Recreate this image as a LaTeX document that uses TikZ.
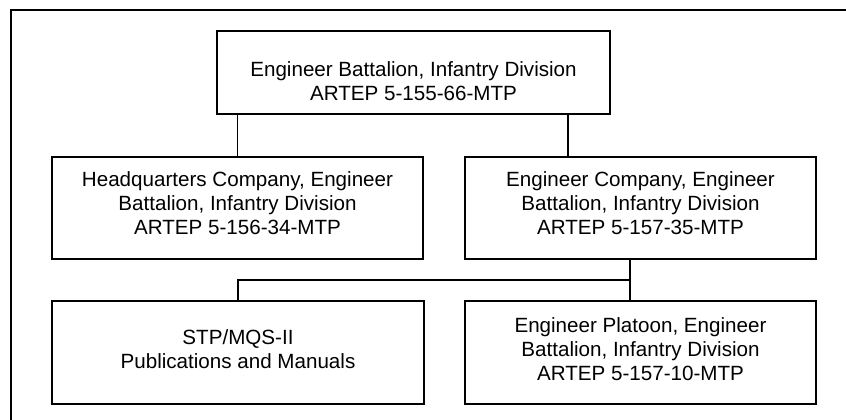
\documentclass[tikz,border=0pt]{standalone}
\usepackage{fontspec}
\setmainfont{Liberation Sans}
\usepackage{tikz}
\usetikzlibrary{positioning}

\tikzset{
  unitbox/.style={draw,line width=1.2pt,inner sep=0pt},
  unittext/.style={align=center,inner sep=0pt,
    font=\fontsize{20.6}{24}\selectfont},
  link/.style={line width=1.2pt}
}

\begin{document}
\begin{tikzpicture}[x=1pt,y=1pt,line cap=rect]
\useasboundingbox (0,0) rectangle (846,420);
\begin{scope}
\clip (0,0) rectangle (846,420);
\draw[line width=1.2pt] (11,-20) rectangle (870,410);
\end{scope}
% boxes
\node[unitbox,minimum width=393,minimum height=83] (bn) at (413.5,347.5) {};
\node[unitbox,minimum width=371,minimum height=102] (hq) at (237.5,212) {};
\node[unitbox,minimum width=351,minimum height=102] (ec) at (640.5,212) {};
\node[unitbox,minimum width=372,minimum height=103] (stp) at (238,67.5) {};
\node[unitbox,minimum width=351,minimum height=103] (ep) at (640.5,67.5) {};
% texts
\node[unittext] (bntext) at ([yshift=-9]bn.center)
  {Engineer Battalion, Infantry Division\\ARTEP 5-155-66-MTP};
\node[unittext] (hqtext) at ([yshift=4.5]hq.center)
  {Headquarters Company, Engineer\\Battalion, Infantry Division\\ARTEP 5-156-34-MTP};
\node[unittext] (ectext) at ([yshift=4.5]ec.center)
  {Engineer Company, Engineer\\Battalion, Infantry Division\\ARTEP 5-157-35-MTP};
\node[unittext] (stptext) at ([yshift=3.5]stp.center)
  {STP/MQS-II\\Publications and Manuals};
\node[unittext] (eptext) at ([yshift=3.5]ep.center)
  {Engineer Platoon, Engineer\\Battalion, Infantry Division\\ARTEP 5-157-10-MTP};
% connectors
\draw[link] (hq.north) -- (hq.north |- bn.south);
\draw[link] ([xshift=154.5]bn.south) -- ([xshift=154.5]bn.south |- ec.north);
\coordinate (bus) at ([xshift=-10.5]ec.south |- 0,140);
\draw[link] ([xshift=-10.5]ec.south) -- (bus) -| (stp.north);
\draw[link] (bus) -- (bus |- ep.north);
\end{tikzpicture}
\end{document}
